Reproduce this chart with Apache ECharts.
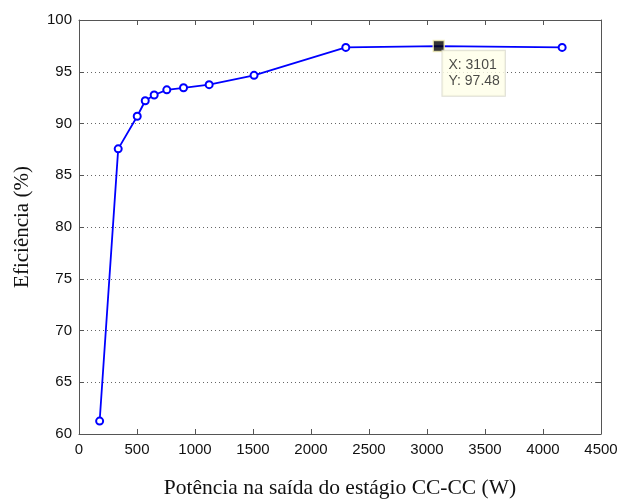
<!DOCTYPE html>
<html>
<head>
<meta charset="utf-8">
<script src="https://cdn.jsdelivr.net/npm/echarts@6/dist/echarts.min.js"></script>
<style>
  html, body { margin: 0; padding: 0; background: #fff; }
  #chart { width: 621px; height: 499px; }
</style>
</head>
<body>
<div id="chart"></div>
<script>
// Efficiency of the DC-DC stage versus its output power
const potencia = [178, 338, 502, 571, 648, 757, 901, 1122, 1509, 2300, 3101, 4165];
const eficiencia = [61.25, 87.55, 90.7, 92.2, 92.75, 93.25, 93.45, 93.75, 94.65, 97.35, 97.48, 97.35];

// Highlighted data tip
const tipX = 3101;
const tipY = 97.48;

const xTicks = { min: 0, max: 4500, interval: 500 };
const yTicks = { min: 60, max: 100, interval: 5 };

const axisColor = '#555';
const labelFont = { fontFamily: 'Liberation Sans, Arial, sans-serif', fontSize: 15, color: '#111' };
const plain = v => String(v);

const chart = echarts.init(document.getElementById('chart'), null, { renderer: 'canvas' });

// the point under the data tip carries the square marker only
const line = potencia.map((x, i) =>
  x === tipX ? { value: [x, eficiencia[i]], symbol: 'none' } : [x, eficiencia[i]]);

chart.setOption({
  animation: false,
  backgroundColor: '#fff',
  grid: { left: 79, right: 20, top: 20, bottom: 65, containLabel: false, outerBoundsMode: 'none' },
  xAxis: [
    {
      type: 'value', min: xTicks.min, max: xTicks.max, interval: xTicks.interval,
      position: 'bottom',
      axisLine: { show: true, onZero: false, lineStyle: { color: axisColor, width: 1 } },
      axisTick: { show: true, inside: true, length: 5, lineStyle: { color: axisColor } },
      axisLabel: Object.assign({ margin: 8, formatter: plain }, labelFont),
      splitLine: { show: false },
      name: 'Potência na saída do estágio CC-CC (W)',
      nameLocation: 'middle', nameGap: 43,
      nameTextStyle: { fontFamily: 'Liberation Serif, Times New Roman, serif', fontSize: 21.5, color: '#111' }
    },
    {
      type: 'value', min: xTicks.min, max: xTicks.max, interval: xTicks.interval,
      position: 'top',
      axisLine: { show: true, onZero: false, lineStyle: { color: axisColor, width: 1 } },
      axisTick: { show: true, inside: true, length: 5, lineStyle: { color: axisColor } },
      axisLabel: { show: false },
      splitLine: { show: false }
    }
  ],
  yAxis: [
    {
      type: 'value', min: yTicks.min, max: yTicks.max, interval: yTicks.interval,
      position: 'left',
      axisLine: { show: true, onZero: false, lineStyle: { color: axisColor, width: 1 } },
      axisTick: { show: true, inside: true, length: 5, lineStyle: { color: axisColor } },
      axisLabel: Object.assign({ margin: 7, formatter: plain }, labelFont),
      splitLine: { show: true, lineStyle: { color: '#666', type: [1, 3], width: 1 } },
      name: 'Eficiência (%)',
      nameLocation: 'middle', nameGap: 46,
      nameTextStyle: { fontFamily: 'Liberation Serif, Times New Roman, serif', fontSize: 21, color: '#111' }
    },
    {
      type: 'value', min: yTicks.min, max: yTicks.max, interval: yTicks.interval,
      position: 'right',
      axisLine: { show: true, onZero: false, lineStyle: { color: axisColor, width: 1 } },
      axisTick: { show: true, inside: true, length: 5, lineStyle: { color: axisColor } },
      axisLabel: { show: false },
      splitLine: { show: false }
    }
  ],
  series: [
    {
      type: 'line',
      data: line,
      xAxisIndex: 0, yAxisIndex: 0,
      symbol: 'emptyCircle', symbolSize: 7,
      showAllSymbol: true,
      lineStyle: { color: '#0000ff', width: 1.8 },
      itemStyle: { color: '#0000ff', borderColor: '#0000ff', borderWidth: 1.2 },
      z: 3
    },
    {
      type: 'scatter',
      data: [[tipX, tipY]],
      xAxisIndex: 0, yAxisIndex: 0,
      symbol: 'rect', symbolSize: 11,
      itemStyle: { color: '#000', borderColor: '#f5f0b8', borderWidth: 1.5 },
      label: {
        show: true,
        position: [10, 11],
        formatter: () => 'X: ' + tipX + '\nY: ' + tipY,
        fontFamily: 'Liberation Sans, Arial, sans-serif',
        fontSize: 14, color: '#1a1a1a', lineHeight: 16,
        backgroundColor: '#ffffe8',
        borderColor: '#d6d6c8', borderWidth: 1,
        padding: [6, 5, 7, 6]
      },
      z: 5
    }
  ]
});
</script>
</body>
</html>
